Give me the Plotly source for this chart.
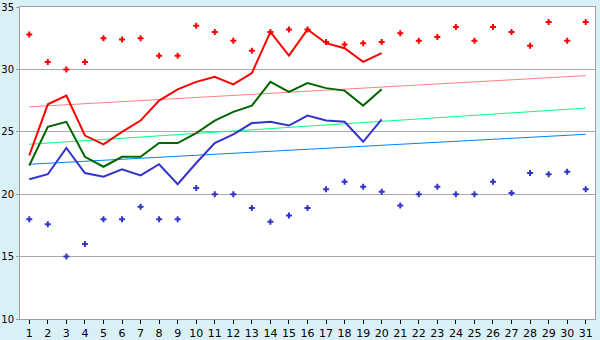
import plotly.graph_objects as go

days = list(range(1, 32))
line_days = list(range(1, 21))

rec_max = [32.8, 30.6, 30.0, 30.6, 32.5, 32.4, 32.5, 31.1, 31.1, 33.5,
           33.0, 32.3, 31.5, 33.0, 33.2, 33.2, 32.2, 32.0, 32.1, 32.2,
           32.9, 32.3, 32.6, 33.4, 32.3, 33.4, 33.0, 31.9, 33.8, 32.3, 33.8]
rec_min = [18.0, 17.6, 15.0, 16.0, 18.0, 18.0, 19.0, 18.0, 18.0, 20.5,
           20.0, 20.0, 18.9, 17.8, 18.3, 18.9, 20.4, 21.0, 20.6, 20.2,
           19.1, 20.0, 20.6, 20.0, 20.0, 21.0, 20.1, 21.7, 21.6, 21.8, 20.4]

t_max = [23.1, 27.2, 27.9, 24.7, 24.0, 25.0, 25.9, 27.5, 28.4, 29.0,
         29.4, 28.8, 29.7, 33.0, 31.1, 33.2, 32.1, 31.7, 30.6, 31.3]
t_mean = [22.3, 25.4, 25.8, 23.0, 22.2, 23.0, 23.0, 24.1, 24.1, 24.9,
          25.9, 26.6, 27.1, 29.0, 28.2, 28.9, 28.5, 28.3, 27.1, 28.4]
t_min = [21.2, 21.6, 23.7, 21.7, 21.4, 22.0, 21.5, 22.4, 20.8, 22.5,
         24.1, 24.8, 25.7, 25.8, 25.5, 26.3, 25.9, 25.8, 24.2, 26.0]

trend_days = [1, 31]
trend_max = [27.0, 29.5]
trend_mean = [24.0, 26.9]
trend_min = [22.4, 24.8]

fig = go.Figure()
fig.add_trace(go.Scatter(x=trend_days, y=trend_max, mode="lines",
                         line=dict(color="#FF8080", width=1)))
fig.add_trace(go.Scatter(x=trend_days, y=trend_mean, mode="lines",
                         line=dict(color="#00FF80", width=1)))
fig.add_trace(go.Scatter(x=trend_days, y=trend_min, mode="lines",
                         line=dict(color="#0080FF", width=1)))
fig.add_trace(go.Scatter(x=days, y=rec_max, mode="markers",
                         marker=dict(symbol="cross", size=5, color="#FF0000")))
fig.add_trace(go.Scatter(x=days, y=rec_min, mode="markers",
                         marker=dict(symbol="cross", size=5, color="#3333CC")))
fig.add_trace(go.Scatter(x=line_days, y=t_max, mode="lines",
                         line=dict(color="#FF0000", width=2)))
fig.add_trace(go.Scatter(x=line_days, y=t_mean, mode="lines",
                         line=dict(color="#006600", width=2)))
fig.add_trace(go.Scatter(x=line_days, y=t_min, mode="lines",
                         line=dict(color="#3333CC", width=2)))

fig.update_layout(
    width=600, height=340,
    margin=dict(l=20, r=5, t=7, b=21),
    paper_bgcolor="#DAF0F7",
    plot_bgcolor="#FFFFFF",
    showlegend=False,
    font=dict(family="DejaVu Sans", size=11, color="#000000"),
)
fig.update_xaxes(range=[0.5, 31.5], tickmode="array", tickvals=days,
                 ticktext=[str(d) for d in days], automargin=False,
                 showgrid=False, zeroline=False,
                 showline=True, linecolor="#A0A0A0", linewidth=1, mirror=True,
                 ticks="outside", ticklen=4, tickcolor="#000000")
fig.update_yaxes(range=[10, 35], tickvals=[10, 15, 20, 25, 30, 35],
                 ticklabeloverflow="allow", automargin=False,
                 tickfont=dict(size=10),
                 showgrid=True, gridcolor="#A8A8A8", gridwidth=1, zeroline=False,
                 showline=True, linecolor="#A0A0A0", linewidth=1, mirror=True,
                 ticks="outside", ticklen=3, tickcolor="#A0A0A0")

fig.write_html("out.html")
